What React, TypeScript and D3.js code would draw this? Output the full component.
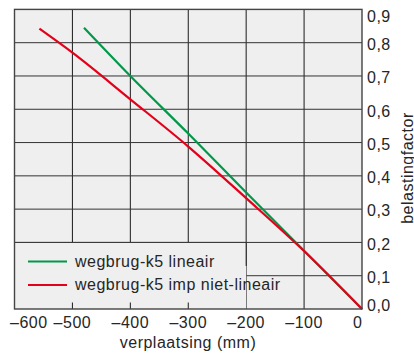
import React from "react";
import * as d3 from "d3";

const xTicks = [-600, -500, -400, -300, -200, -100, 0];
const yTicks = [0, 0.1, 0.2, 0.3, 0.4, 0.5, 0.6, 0.7, 0.8, 0.9];

const greenX = [-480, -400, -300, -200, -100, 0];
const greenY = [0.845, 0.7, 0.527, 0.35, 0.175, 0];

const redX = [-557, -500, -400, -300, -200, -100, 0];
const redY = [0.842, 0.77, 0.63, 0.488, 0.333, 0.174, 0];

const seriesNames = ["wegbrug-k5 lineair", "wegbrug-k5 imp niet-lineair"];
const seriesColors = ["#00994a", "#e3001b"];

const W = 414;
const H = 356;
const L = 14.5;
const R = 362;
const T = 9.4;
const B = 309;

export default function App() {
  const x = d3.scaleLinear().domain([-600, 0]).range([L, R]);
  const y = d3.scaleLinear().domain([0, 0.9]).range([B, T]);
  const line = d3
    .line<[number, number]>()
    .x((d) => x(d[0]))
    .y((d) => y(d[1]))
    .curve(d3.curveMonotoneX);

  const green = greenX.map((v, i) => [v, greenY[i]] as [number, number]);
  const red = redX.map((v, i) => [v, redY[i]] as [number, number]);

  const font = { fontFamily: "'Liberation Sans', Arial, sans-serif", fontSize: 16, letterSpacing: 0.5, fill: "#262626" };

  const legTop = y(0.2);
  const legRight = x(-200);

  return (
    <svg width={W} height={H} style={{ position: "absolute", left: 0, top: 0 }}>
      <rect x={L} y={T} width={R - L} height={B - T} fill="#efefef" />
      {/* grid */}
      {xTicks.slice(1, -1).map((t) => (
        <line key={"vx" + t} x1={x(t)} x2={x(t)} y1={T} y2={B} stroke="#1a1a1a" strokeWidth={1} />
      ))}
      {yTicks.slice(1, -1).map((t) => (
        <line key={"hy" + t} x1={L} x2={R} y1={y(t)} y2={y(t)} stroke="#333" strokeWidth={1} />
      ))}
      {/* legend box */}
      <rect x={L} y={legTop} width={legRight - L} height={B - legTop} fill="#efefef" />
      <line x1={L} x2={legRight} y1={legTop} y2={legTop} stroke="#333" strokeWidth={1} />
      <line x1={legRight} x2={legRight} y1={legTop} y2={legTop + 23.5} stroke="#1a1a1a" strokeWidth={1} />
      {xTicks.slice(1, 4).map((t) => (
        <line key={"tk" + t} x1={x(t)} x2={x(t)} y1={B - 6.5} y2={B} stroke="#1a1a1a" strokeWidth={1} />
      ))}
      {/* series */}
      <path d={line(green) || ""} fill="none" stroke={seriesColors[0]} strokeWidth={2.2} />
      <path d={line(red) || ""} fill="none" stroke={seriesColors[1]} strokeWidth={2.2} />
      {/* frame */}
      <rect x={L} y={T} width={R - L} height={B - T} fill="none" stroke="#444" strokeWidth={1.4} />
      {/* legend */}
      {seriesNames.map((n, i) => (
        <g key={n}>
          <line x1={28} x2={67} y1={261.5 + i * 23.5} y2={261.5 + i * 23.5} stroke={seriesColors[i]} strokeWidth={2.2} />
          <text x={75} y={266.5 + i * 23.5} {...font}>
            {n}
          </text>
        </g>
      ))}
      {/* y labels */}
      {yTicks.map((t, i) => {
        let off = 1.5;
        if (i === 0) off = -4;
        if (i === yTicks.length - 1) off = 7;
        return (
          <text key={"yl" + t} x={367} y={y(t) + off} dy="0.36em" {...font}>
            {t.toFixed(1).replace(".", ",")}
          </text>
        );
      })}
      {/* x labels */}
      {xTicks.map((t, i) => {
        const label = t < 0 ? "\u2013" + Math.abs(t) : String(t);
        let anchor: "start" | "middle" | "end" = "middle";
        let xx = x(t);
        if (i === 0) {
          anchor = "start";
          xx = 10;
        } else if (i === xTicks.length - 1) {
          anchor = "end";
          xx = x(t) + 0.5;
        }
        return (
          <text key={"xl" + t} x={xx} y={327.5} textAnchor={anchor} {...font}>
            {label}
          </text>
        );
      })}
      <text x={188} y={348} textAnchor="middle" {...font}>
        verplaatsing (mm)
      </text>
      <text transform="translate(413,168) rotate(-90)" textAnchor="middle" {...font}>
        belastingfactor
      </text>
    </svg>
  );
}
